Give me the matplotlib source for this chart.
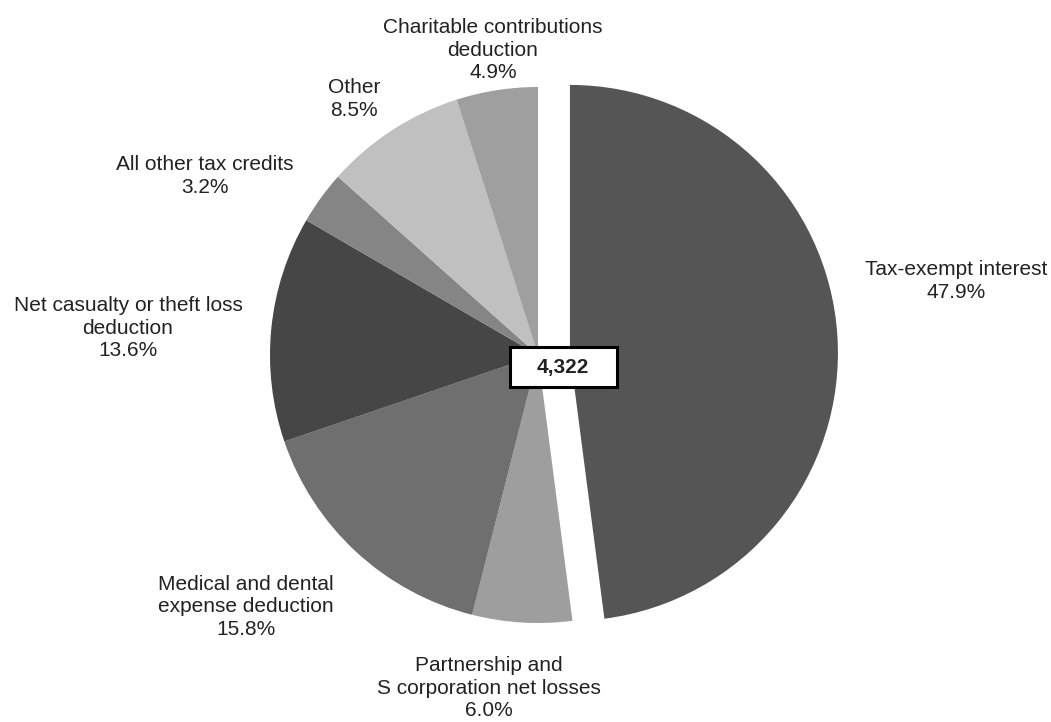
import matplotlib.pyplot as plt
from matplotlib.patches import Rectangle

plt.rcParams['font.family'] = ['Liberation Sans', 'DejaVu Sans']

# share of returns, percent
categories = ['Tax-exempt interest',
              'Partnership and\nS corporation net losses',
              'Medical and dental\nexpense deduction',
              'Net casualty or theft loss\ndeduction',
              'All other tax credits',
              'Other',
              'Charitable contributions\ndeduction']
shares = [47.9, 6.0, 15.8, 13.6, 3.2, 8.5, 4.9]
colors = ['#555555', '#9e9e9e', '#6f6f6f', '#464646', '#858585', '#c0c0c0', '#9f9f9f']
explode = [32, 0, 0, 0, 0, 0, 0]
total = '4,322'

# label anchor points (pixel space, y from top)
label_pos = [(956, 281), (489, 688), (246, 607), (128, 328), (205, 176), (354, 99), (493, 50)]

fig = plt.figure(figsize=(10.51, 7.22), dpi=100)
ax = fig.add_axes([0, 0, 1, 1])

cx, cy, r = 538, 355, 268

# y axis runs downward, so counterclock=True turns out clockwise on screen
ax.pie(shares, colors=colors, startangle=-90, counterclock=True,
       center=(cx, cy), radius=r, explode=explode, frame=True,
       wedgeprops=dict(linewidth=0))
ax.set_xlim(0, 1051)
ax.set_ylim(722, 0)
ax.axis('off')

for name, val, (x, y) in zip(categories, shares, label_pos):
    ax.text(x, y, f'{name}\n{val:.1f}%', ha='center', va='center',
            fontsize=15, color='#222222', linespacing=1.25)

# total in a boxed label at the middle
bx, by, bw, bh = 563, 367, 107, 40
ax.add_patch(Rectangle((bx - bw / 2, by - bh / 2), bw, bh, facecolor='white',
                       edgecolor='black', linewidth=2.2, zorder=5))
ax.text(bx, by, total, ha='center', va='center', fontsize=15, fontweight='bold',
        color='#222222', zorder=6)

fig.savefig('out.png', dpi=100)
